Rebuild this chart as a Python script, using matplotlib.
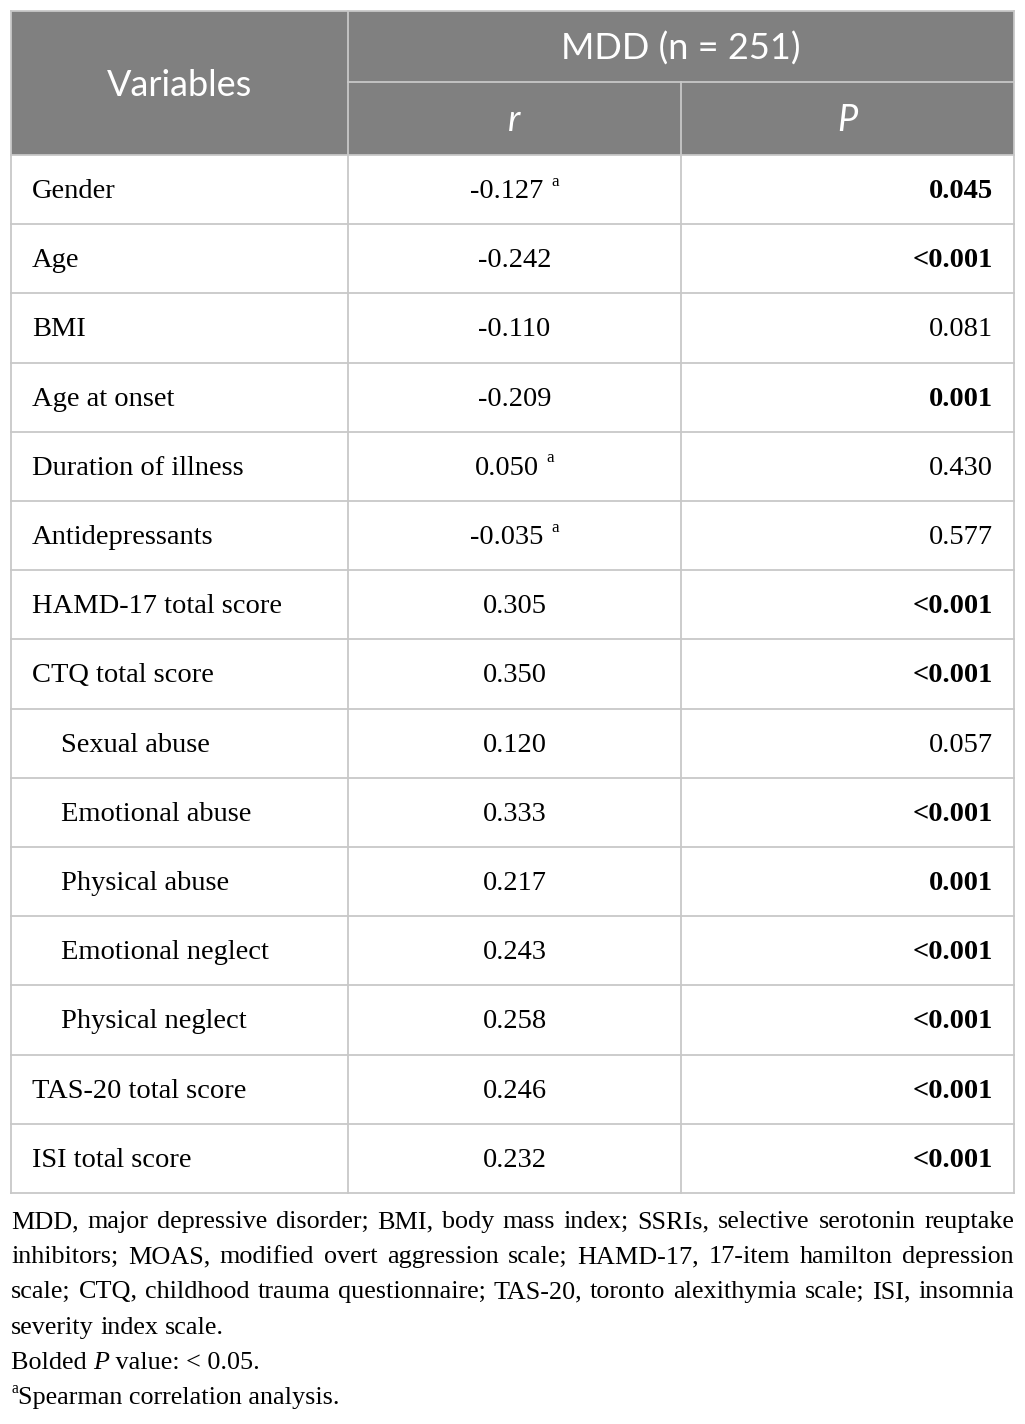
import matplotlib
matplotlib.use("Agg")
import matplotlib.pyplot as plt

# Table content ----
variables = ["Gender", "Age", "BMI", "Age at onset", "Duration of illness",
             "Antidepressants", "HAMD-17 total score", "CTQ total score",
             "Sexual abuse", "Emotional abuse", "Physical abuse",
             "Emotional neglect", "Physical neglect", "TAS-20 total score",
             "ISI total score"]
indented = [False] * 8 + [True] * 5 + [False] * 2
r_values = ["-0.127", "-0.242", "-0.110", "-0.209", "0.050", "-0.035",
            "0.305", "0.350", "0.120", "0.333", "0.217", "0.243", "0.258",
            "0.246", "0.232"]
spearman = [True, False, False, False, True, True] + [False] * 9
p_values = ["0.045", "<0.001", "0.081", "0.001", "0.430", "0.577", "<0.001",
            "<0.001", "0.057", "<0.001", "0.001", "<0.001", "<0.001",
            "<0.001", "<0.001"]
p_bold = [True, True, False, True, False, False, True, True, False, True,
          True, True, True, True, True]
header_group = "MDD (n = 251)"
header_var = "Variables"
header_cols = ["r", "P"]

footnote_lines = [
    "MDD, major depressive disorder; BMI, body mass index; SSRIs, selective serotonin reuptake",
    "inhibitors; MOAS, modified overt aggression scale; HAMD-17, 17-item hamilton depression",
    "scale; CTQ, childhood trauma questionnaire; TAS-20, toronto alexithymia scale; ISI, insomnia",
    "severity index scale.",
]

# Layout (pixels) ----
W, H = 1025, 1424
x_left, x_c1, x_c2, x_right = 11, 348, 681, 1014
y_top, y_mid, y_head = 11, 82, 155
row_h = 69.2
n_rows = len(variables)
y_bottom = y_head + row_h * n_rows

serif = "Liberation Serif"
sans = "Lato"
body_size = 20.5
foot_size = 18.8
head_size = 26
line_col = "#c8c8c8"
head_fill = "#808080"

fig = plt.figure(figsize=(W / 100, H / 100), dpi=100)
ax = fig.add_axes([0, 0, 1, 1])
ax.set_xlim(0, W)
ax.set_ylim(H, 0)
ax.axis("off")
renderer = fig.canvas.get_renderer()


def text_width(t):
    bb = t.get_window_extent(renderer=renderer)
    return bb.width


# Header ----
ax.add_patch(plt.Rectangle((x_left, y_top), x_right - x_left, y_head - y_top,
                           facecolor=head_fill, edgecolor="none"))
ax.text((x_left + x_c1) / 2, (y_top + y_head) / 2 + 2, header_var,
        ha="center", va="center", color="white", fontsize=head_size, family=sans)
ax.text((x_c1 + x_right) / 2, (y_top + y_mid) / 2 + 2, header_group,
        ha="center", va="center", color="white", fontsize=head_size, family=sans)
ax.text((x_c1 + x_c2) / 2, (y_mid + y_head) / 2 + 2, header_cols[0],
        ha="center", va="center", color="white", fontsize=head_size,
        family=sans, style="italic")
ax.text((x_c2 + x_right) / 2, (y_mid + y_head) / 2 + 2, header_cols[1],
        ha="center", va="center", color="white", fontsize=head_size,
        family=sans, style="italic")

# Grid lines ----
lw = 1.3
ax.plot([x_left, x_right], [y_top, y_top], color=line_col, lw=lw)
ax.plot([x_c1, x_right], [y_mid, y_mid], color=line_col, lw=lw)
for i in range(n_rows + 1):
    y = y_head + i * row_h
    ax.plot([x_left, x_right], [y, y], color=line_col, lw=lw)
ax.plot([x_left, x_left], [y_top, y_bottom], color=line_col, lw=lw)
ax.plot([x_right, x_right], [y_top, y_bottom], color=line_col, lw=lw)
ax.plot([x_c1, x_c1], [y_top, y_bottom], color=line_col, lw=lw)
ax.plot([x_c2, x_c2], [y_mid, y_bottom], color=line_col, lw=lw)

# Body rows ----
r_center = (x_c1 + x_c2) / 2
for i in range(n_rows):
    yc = y_head + (i + 0.5) * row_h + 2
    ax.text(61 if indented[i] else 32, yc, variables[i], ha="left", va="center",
            fontsize=body_size, family=serif)
    if spearman[i]:
        num = ax.text(0, yc, r_values[i], ha="left", va="center",
                      fontsize=body_size, family=serif)
        sup = ax.text(0, yc - 10, "a", ha="left", va="center",
                      fontsize=body_size * 0.6, family=serif)
        wn = text_width(num)
        ws = text_width(sup)
        gap = 8
        x0 = r_center - (wn + gap + ws) / 2
        num.set_x(x0)
        sup.set_x(x0 + wn + gap)
    else:
        ax.text(r_center, yc, r_values[i], ha="center", va="center",
                fontsize=body_size, family=serif)
    ax.text(993, yc, p_values[i], ha="right", va="center", fontsize=body_size,
            family=serif, weight="bold" if p_bold[i] else "normal")

# Footnotes ----
foot_y0 = 1222
foot_dy = 35.2
for k, line in enumerate(footnote_lines):
    y = foot_y0 + k * foot_dy
    words = line.split(" ")
    objs = [ax.text(0, y, w, ha="left", va="center", fontsize=foot_size,
                    family=serif) for w in words]
    widths = [text_width(o) for o in objs]
    if k < len(footnote_lines) - 1:
        gap = (x_right - x_left - sum(widths)) / (len(words) - 1)
    else:
        gap = foot_size * 100 / 72 * 0.25
    x = x_left
    for o, w in zip(objs, widths):
        o.set_x(x)
        x += w + gap

# "Bolded P value: < 0.05."
y = foot_y0 + 4 * foot_dy
parts = [("Bolded ", "normal"), ("P", "italic"), (" value: < 0.05.", "normal")]
x = x_left
for s, st in parts:
    t = ax.text(x, y, s, ha="left", va="center", fontsize=foot_size,
                family=serif, style=st)
    x += text_width(t)

# superscript a + Spearman note
y = foot_y0 + 5 * foot_dy
t = ax.text(x_left, y - 9, "a", ha="left", va="center",
            fontsize=foot_size * 0.6, family=serif)
ax.text(x_left + text_width(t), y, "Spearman correlation analysis.",
        ha="left", va="center", fontsize=foot_size, family=serif)

fig.savefig("out.png", dpi=100)
